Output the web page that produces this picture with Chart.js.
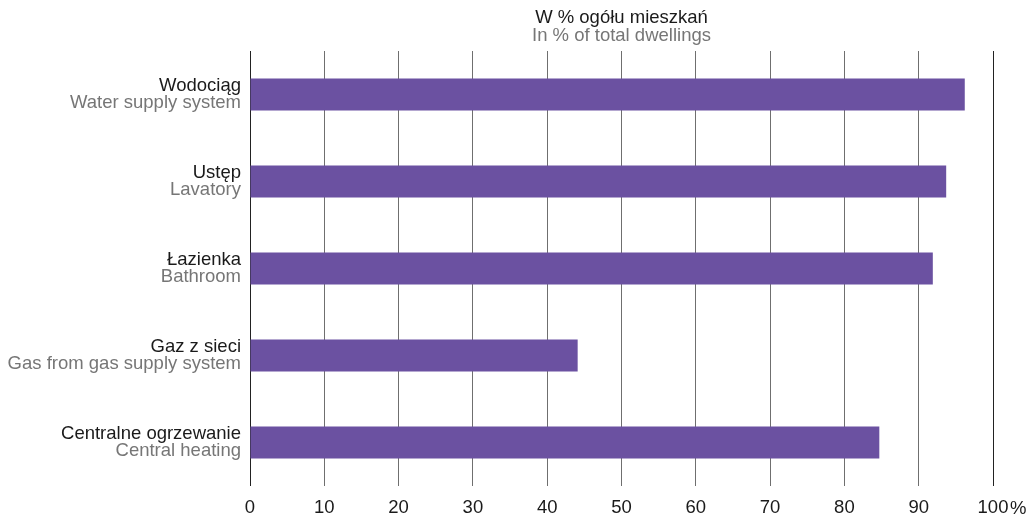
<!DOCTYPE html>
<html>
<head>
<meta charset="utf-8">
<script src="https://cdn.jsdelivr.net/npm/chart.js@4/dist/chart.umd.min.js"></script>
<style>
html,body{margin:0;padding:0;background:#fff;}
#wrap{width:1035px;height:516px;position:relative;}
</style>
</head>
<body>
<div id="wrap"><canvas id="c" width="1035" height="516"></canvas></div>
<script>
const categoriesPL = ["Wodociąg", "Ustęp", "Łazienka", "Gaz z sieci", "Centralne ogrzewanie"];
const categoriesEN = ["Water supply system", "Lavatory", "Bathroom", "Gas from gas supply system", "Central heating"];
const values = [96.2, 93.7, 91.9, 44.1, 84.7];
const xTicks = [0, 10, 20, 30, 40, 50, 60, 70, 80, 90, 100];
const titlePL = "W % ogółu mieszkań";
const titleEN = "In % of total dwellings";

const FONT = "'Liberation Sans', Arial, sans-serif";
const FS = 18.5;
const BLACK = "#1a1a1a";
const GRAY = "#767676";

const labelsPlugin = {
  id: 'twoLineLabels',
  afterDraw(chart) {
    const ctx = chart.ctx;
    const y = chart.scales.y;
    const x = chart.scales.x;
    const area = chart.chartArea;
    ctx.save();
    ctx.font = FS + "px " + FONT;
    ctx.textAlign = "right";
    ctx.textBaseline = "alphabetic";
    categoriesPL.forEach((c, i) => {
      const py = y.getPixelForTick(i);
      ctx.fillStyle = BLACK;
      ctx.fillText(c, area.left - 9, py - 4);
      ctx.fillStyle = GRAY;
      ctx.fillText(categoriesEN[i], area.left - 9, py + 13);
    });
    // title
    ctx.textAlign = "center";
    const cx = (area.left + area.right) / 2;
    ctx.fillStyle = BLACK;
    ctx.fillText(titlePL, cx, 23);
    ctx.fillStyle = GRAY;
    ctx.fillText(titleEN, cx, 41);
    // percent sign after last tick
    const last = xTicks[xTicks.length - 1];
    const px = x.getPixelForValue(last);
    const w = ctx.measureText(String(last)).width;
    ctx.textAlign = "left";
    ctx.fillStyle = BLACK;
    ctx.fillText("%", px + w / 2 + 1.5, 514);
    ctx.restore();
  }
};

new Chart(document.getElementById('c'), {
  type: 'bar',
  data: {
    labels: categoriesPL,
    datasets: [{
      data: values,
      backgroundColor: '#6b51a1',
      borderWidth: 0,
      barPercentage: 0.367,
      categoryPercentage: 1.0
    }]
  },
  options: {
    indexAxis: 'y',
    responsive: false,
    animation: false,
    devicePixelRatio: 1,
    layout: { padding: { left: 0, right: 42, top: 51, bottom: 0 } },
    plugins: { legend: { display: false }, tooltip: { enabled: false }, title: { display: false } },
    scales: {
      x: {
        min: 0, max: 100,
        afterBuildTicks(scale) { scale.ticks = xTicks.map(v => ({ value: v })); },
        afterFit(scale) { scale.height = 30; },
        grid: {
          drawTicks: false,
          color: (c) => (c.tick && (c.tick.value === 0 || c.tick.value === 100)) ? '#222' : '#6f6f6f',
          lineWidth: 1
        },
        border: { display: false },
        ticks: {
          padding: 11,
          color: BLACK,
          font: { family: FONT, size: FS },
          maxRotation: 0,
          autoSkip: false,
          callback: (v) => String(v)
        }
      },
      y: {
        afterFit(scale) { scale.width = 250; },
        grid: { display: false },
        border: { display: false },
        ticks: { display: false }
      }
    }
  },
  plugins: [labelsPlugin]
});
</script>
</body>
</html>
